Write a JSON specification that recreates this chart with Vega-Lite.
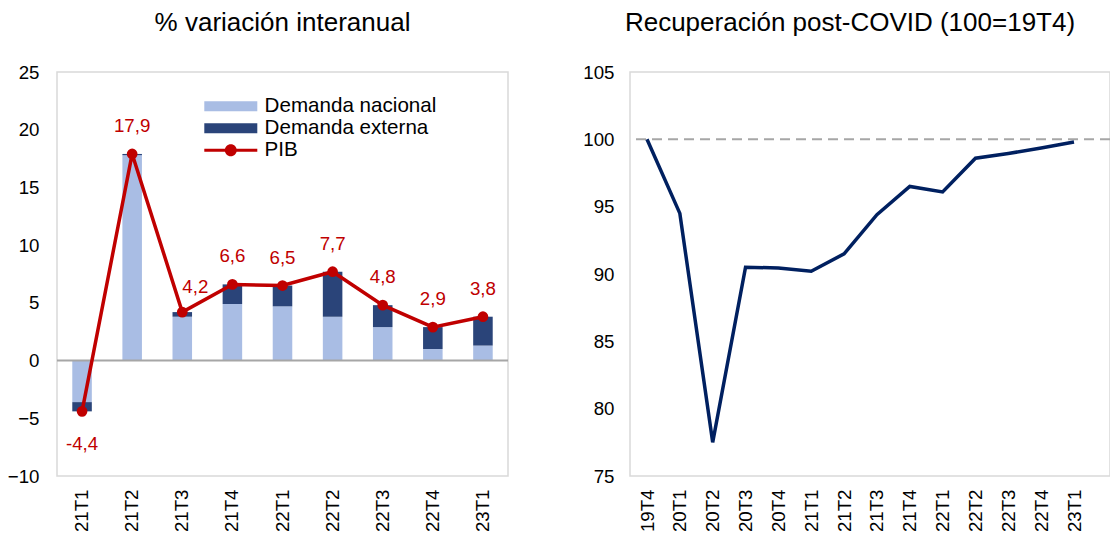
{
  "$schema": "https://vega.github.io/schema/vega-lite/v6.json",
  "padding": {"left": 0, "top": 8, "right": 0, "bottom": 0},
  "background": "white",
  "config": {
    "font": "Liberation Sans",
    "view": {"stroke": "#d9d9d9", "strokeWidth": 1.5},
    "axis": {"labelFont": "Liberation Sans", "labelFontSize": 18.7, "labelColor": "#000000", "grid": false, "ticks": false, "domain": false, "title": null},
    "title": {"font": "Liberation Sans", "fontSize": 26, "fontWeight": "normal", "color": "#000000", "frame": "group", "baseline": "alphabetic", "offset": 27.5},
    "concat": {"spacing": 69}
  },
  "datasets": {
    "barras": [
      {"trimestre": "21T1", "serie": "Demanda nacional", "orden": 1, "valor": -3.6},
      {"trimestre": "21T1", "serie": "Demanda externa", "orden": 2, "valor": -0.8},
      {"trimestre": "21T2", "serie": "Demanda nacional", "orden": 1, "valor": 17.8},
      {"trimestre": "21T2", "serie": "Demanda externa", "orden": 2, "valor": 0.1},
      {"trimestre": "21T3", "serie": "Demanda nacional", "orden": 1, "valor": 3.8},
      {"trimestre": "21T3", "serie": "Demanda externa", "orden": 2, "valor": 0.4},
      {"trimestre": "21T4", "serie": "Demanda nacional", "orden": 1, "valor": 4.9},
      {"trimestre": "21T4", "serie": "Demanda externa", "orden": 2, "valor": 1.7},
      {"trimestre": "22T1", "serie": "Demanda nacional", "orden": 1, "valor": 4.7},
      {"trimestre": "22T1", "serie": "Demanda externa", "orden": 2, "valor": 1.8},
      {"trimestre": "22T2", "serie": "Demanda nacional", "orden": 1, "valor": 3.8},
      {"trimestre": "22T2", "serie": "Demanda externa", "orden": 2, "valor": 3.9},
      {"trimestre": "22T3", "serie": "Demanda nacional", "orden": 1, "valor": 2.9},
      {"trimestre": "22T3", "serie": "Demanda externa", "orden": 2, "valor": 1.9},
      {"trimestre": "22T4", "serie": "Demanda nacional", "orden": 1, "valor": 1.0},
      {"trimestre": "22T4", "serie": "Demanda externa", "orden": 2, "valor": 1.9},
      {"trimestre": "23T1", "serie": "Demanda nacional", "orden": 1, "valor": 1.3},
      {"trimestre": "23T1", "serie": "Demanda externa", "orden": 2, "valor": 2.5}
    ],
    "pib": [
      {"trimestre": "21T1", "pib": -4.4, "etiqueta": "-4,4"},
      {"trimestre": "21T2", "pib": 17.9, "etiqueta": "17,9"},
      {"trimestre": "21T3", "pib": 4.2, "etiqueta": "4,2"},
      {"trimestre": "21T4", "pib": 6.6, "etiqueta": "6,6"},
      {"trimestre": "22T1", "pib": 6.5, "etiqueta": "6,5"},
      {"trimestre": "22T2", "pib": 7.7, "etiqueta": "7,7"},
      {"trimestre": "22T3", "pib": 4.8, "etiqueta": "4,8"},
      {"trimestre": "22T4", "pib": 2.9, "etiqueta": "2,9"},
      {"trimestre": "23T1", "pib": 3.8, "etiqueta": "3,8"}
    ],
    "indice": [
      {"trimestre": "19T4", "indice": 100.0},
      {"trimestre": "20T1", "indice": 94.5},
      {"trimestre": "20T2", "indice": 77.5},
      {"trimestre": "20T3", "indice": 90.5},
      {"trimestre": "20T4", "indice": 90.45},
      {"trimestre": "21T1", "indice": 90.2},
      {"trimestre": "21T2", "indice": 91.5},
      {"trimestre": "21T3", "indice": 94.4},
      {"trimestre": "21T4", "indice": 96.5},
      {"trimestre": "22T1", "indice": 96.1},
      {"trimestre": "22T2", "indice": 98.6},
      {"trimestre": "22T3", "indice": 98.95},
      {"trimestre": "22T4", "indice": 99.35},
      {"trimestre": "23T1", "indice": 99.8}
    ]
  },
  "hconcat": [
    {
      "width": 451,
      "height": 404,
      "title": {"text": "% variación interanual"},
      "layer": [
        {
          "data": {"name": "barras"},
          "mark": {"type": "bar", "width": {"band": 0.39}},
          "encoding": {
            "x": {"field": "trimestre", "type": "ordinal", "sort": null,
                  "scale": {"paddingInner": 0, "paddingOuter": 0},
                  "axis": {"labelAngle": -90, "labelPadding": 13, "title": null}},
            "y": {"field": "valor", "type": "quantitative", "stack": "zero",
                  "scale": {"domain": [-10, 25], "nice": false, "zero": false},
                  "axis": {"values": [-10, -5, 0, 5, 10, 15, 20, 25], "labelPadding": 18, "minExtent": 56, "maxExtent": 56, "title": null}},
            "color": {"field": "serie", "type": "nominal",
                      "scale": {"domain": ["Demanda nacional", "Demanda externa", "PIB"], "range": ["#a9bde4", "#2a4479", "#c00000"]},
                      "legend": {"orient": "none", "legendX": 163.5, "legendY": 24, "title": null,
                                 "labelFontSize": 20.6, "labelFont": "Liberation Sans", "labelColor": "#000000", "labelLimit": 0,
                                 "symbolSize": 400, "symbolStrokeWidth": 0, "symbolOpacity": 1, "labelOffset": 23.5, "rowPadding": 1,
                                 "encode": {"symbols": {"update": {"shape": {"signal": "datum.value === 'PIB' ? 'M-2.65,-0.15H2.65V0.15H-2.65Z M-0.6,0A0.6,0.6 0 1,1 0.6,0A0.6,0.6 0 1,1 -0.6,0Z' : 'M-2.65,-0.5H2.65V0.5H-2.65Z'"}}}}}},
            "order": {"field": "orden", "type": "quantitative"}
          }
        },
        {
          "data": {"values": [{}]},
          "mark": {"type": "rule", "color": "#a6a6a6", "strokeWidth": 2},
          "encoding": {"y": {"datum": 0}}
        },
        {
          "data": {"name": "pib"},
          "mark": {"type": "line", "color": "#c00000", "strokeWidth": 3.5},
          "encoding": {
            "x": {"field": "trimestre", "type": "ordinal", "sort": null},
            "y": {"field": "pib", "type": "quantitative"}
          }
        },
        {
          "data": {"name": "pib"},
          "mark": {"type": "point", "filled": true, "color": "#c00000", "size": 115, "opacity": 1},
          "encoding": {
            "x": {"field": "trimestre", "type": "ordinal", "sort": null},
            "y": {"field": "pib", "type": "quantitative"}
          }
        },
        {
          "data": {"name": "pib"},
          "transform": [{"filter": "datum.pib > 0 && datum.trimestre !== '21T3'"}],
          "mark": {"type": "text", "color": "#c00000", "fontSize": 18.7, "font": "Liberation Sans", "baseline": "middle", "dy": -28},
          "encoding": {
            "x": {"field": "trimestre", "type": "ordinal", "sort": null},
            "y": {"field": "pib", "type": "quantitative"},
            "text": {"field": "etiqueta"}
          }
        },
        {
          "data": {"name": "pib"},
          "transform": [{"filter": "datum.trimestre === '21T3'"}],
          "mark": {"type": "text", "color": "#c00000", "fontSize": 18.7, "font": "Liberation Sans", "baseline": "middle", "dy": -25, "dx": 13},
          "encoding": {
            "x": {"field": "trimestre", "type": "ordinal", "sort": null},
            "y": {"field": "pib", "type": "quantitative"},
            "text": {"field": "etiqueta"}
          }
        },
        {
          "data": {"name": "pib"},
          "transform": [{"filter": "datum.pib < 0"}],
          "mark": {"type": "text", "color": "#c00000", "fontSize": 18.7, "font": "Liberation Sans", "baseline": "middle", "dy": 33},
          "encoding": {
            "x": {"field": "trimestre", "type": "ordinal", "sort": null},
            "y": {"field": "pib", "type": "quantitative"},
            "text": {"field": "etiqueta"}
          }
        }
      ]
    },
    {
      "width": 480,
      "height": 404,
      "title": {"text": "Recuperación post-COVID (100=19T4)", "dx": -20},
      "layer": [
        {
          "data": {"values": [{}]},
          "mark": {"type": "rule", "color": "#a6a6a6", "strokeWidth": 2, "strokeDash": [10, 6]},
          "encoding": {"y": {"datum": 100}}
        },
        {
          "data": {"name": "indice"},
          "mark": {"type": "line", "color": "#002060", "strokeWidth": 3.5},
          "encoding": {
            "x": {"field": "trimestre", "type": "ordinal", "sort": null,
                  "scale": {"type": "point", "range": [17, 444], "padding": 0},
                  "axis": {"labelAngle": -90, "labelPadding": 13, "title": null}},
            "y": {"field": "indice", "type": "quantitative",
                  "scale": {"domain": [75, 105], "nice": false, "zero": false},
                  "axis": {"values": [75, 80, 85, 90, 95, 100, 105], "labelPadding": 16, "minExtent": 50, "maxExtent": 50, "title": null}}
          }
        }
      ]
    }
  ]
}
